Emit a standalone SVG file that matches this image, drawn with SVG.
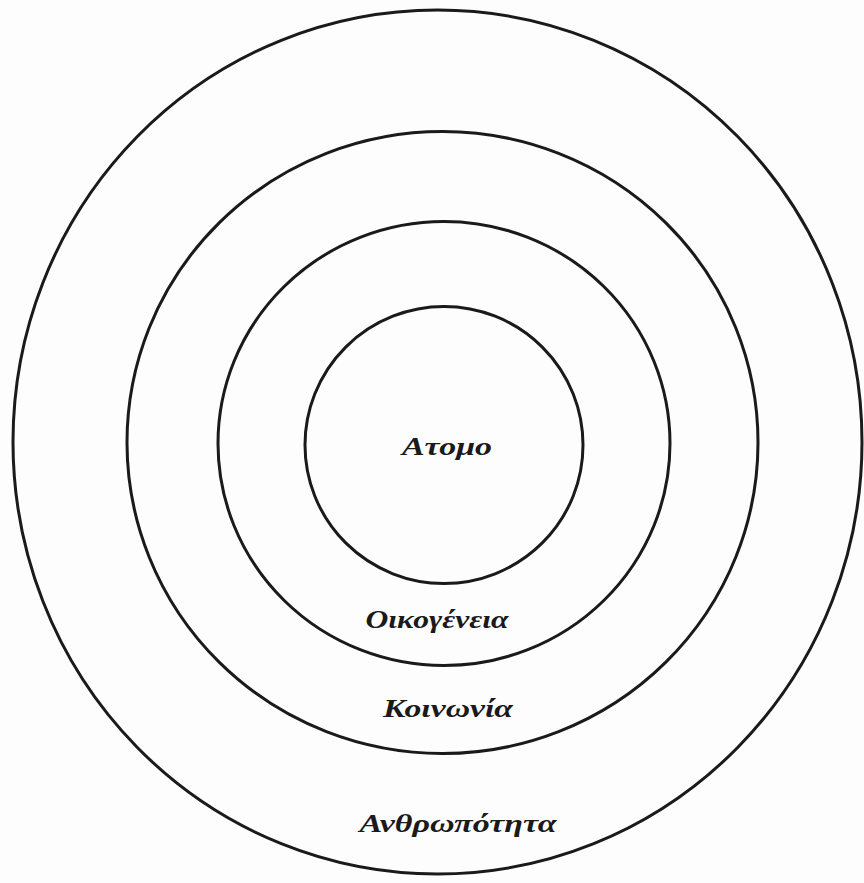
<svg xmlns="http://www.w3.org/2000/svg" width="864" height="883" viewBox="0 0 864 883">
<style>
.ring{fill:none;stroke:#1a1a1a;stroke-width:3}
.lbl{font-family:"Liberation Serif","DejaVu Serif",serif;font-style:italic;font-weight:bold;font-size:26px;fill:#1a1a1a;text-anchor:middle}
</style>
<rect width="864" height="883" fill="#fdfdfd"/>
<g id="anthropotita"><ellipse class="ring" cx="437.5" cy="442" rx="424.5" ry="432"/><text class="lbl" x="458" y="832" textLength="197" lengthAdjust="spacingAndGlyphs">Ανθρωπότητα</text></g>
<g id="koinonia"><ellipse class="ring" cx="442.5" cy="442.5" rx="315.5" ry="311"/><text class="lbl" x="448" y="717" textLength="130" lengthAdjust="spacingAndGlyphs">Κοινωνία</text></g>
<g id="oikogeneia"><ellipse class="ring" cx="444" cy="443.5" rx="226" ry="222"/><text class="lbl" x="437" y="628" textLength="143" lengthAdjust="spacingAndGlyphs">Οικογένεια</text></g>
<g id="atomo"><ellipse class="ring" cx="444" cy="445" rx="139" ry="138.5"/><text class="lbl" x="447" y="455" textLength="90" lengthAdjust="spacingAndGlyphs">Ατομο</text></g>
<g id="connectors"/>
</svg>
